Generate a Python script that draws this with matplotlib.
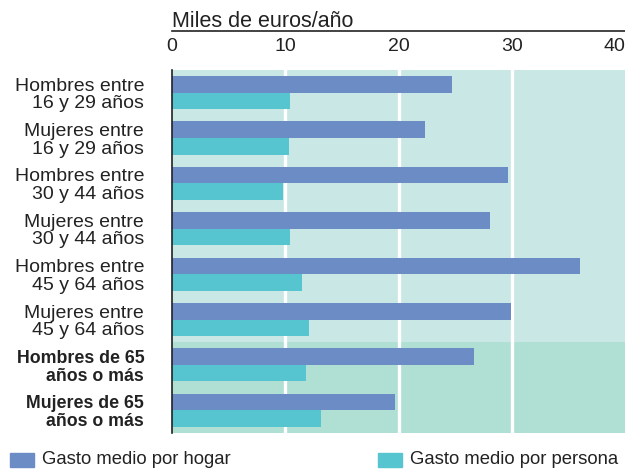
import numpy as np
import matplotlib.pyplot as plt

plt.rcParams['font.family'] = ['Liberation Sans', 'DejaVu Sans']

# data (miles de euros/año)
categorias = ["Hombres entre\n16 y 29 años", "Mujeres entre\n16 y 29 años",
              "Hombres entre\n30 y 44 años", "Mujeres entre\n30 y 44 años",
              "Hombres entre\n45 y 64 años", "Mujeres entre\n45 y 64 años",
              "Hombres de 65\naños o más", "Mujeres de 65\naños o más"]
gasto_hogar = [24.7, 22.3, 29.7, 28.1, 36.0, 29.9, 26.7, 19.7]
gasto_persona = [10.4, 10.3, 9.8, 10.4, 11.5, 12.1, 11.8, 13.2]
ticks = [0, 10, 20, 30, 40]

c_hogar = '#6c8cc6'
c_persona = '#56c5d0'
bg_light = '#c9e7e5'
bg_dark = '#b0dfd4'

fig = plt.figure(figsize=(6.25, 4.71), dpi=100)
ax = fig.add_axes([0.2752, 0.0807, 0.7248, 0.7707])

y = np.arange(len(categorias))
h = 0.365
ax.barh(y - h / 2, gasto_hogar, height=h, color=c_hogar, zorder=3)
ax.barh(y + h / 2, gasto_persona, height=h, color=c_persona, zorder=3)

ax.set_xlim(0, 40)
ax.set_ylim(len(categorias) - 0.5, -0.5)
ax.axhspan(-0.5, 5.5, color=bg_light, zorder=0, lw=0)
ax.axhspan(5.5, 7.5, color=bg_dark, zorder=0, lw=0)
for t in ticks[1:-1]:
    ax.axvline(t, color='white', lw=2.4, zorder=1)

for s in ['top', 'right', 'bottom']:
    ax.spines[s].set_visible(False)
ax.spines['left'].set_color('#222222')
ax.spines['left'].set_linewidth(1.2)
ax.spines['left'].set_zorder(4)

ax.xaxis.tick_top()
ax.set_xticks(ticks)
ax.set_xticklabels([str(t) for t in ticks], fontsize=14, color='#222222')
ax.get_xticklabels()[-1].set_ha('right')
ax.tick_params(axis='x', length=0, pad=11)

ax.set_yticks(y)
ax.set_yticklabels(categorias, fontsize=14, linespacing=1.05, color='#222222')
ax.tick_params(axis='y', length=0, pad=20)
for i, lab in enumerate(ax.get_yticklabels()):
    lab.set_ha('right')
    if i >= 6:
        lab.set_fontweight('bold')
        lab.set_fontsize(12.8)

# title with rule underneath
fig.text(0.2752, 0.943, "Miles de euros/año", fontsize=15.5, ha='left',
         va='baseline', color='#222222')
fig.add_artist(plt.Line2D([0.2752, 1.0], [0.934, 0.934], color='#222222', lw=1.2))

# legend
fig.patches.append(plt.Rectangle((0.016, 0.0085), 0.0384, 0.0297, color=c_hogar,
                                 transform=fig.transFigure))
fig.text(0.067, 0.0234, "Gasto medio por hogar", fontsize=13.3, va='center',
         color='#222222')
fig.patches.append(plt.Rectangle((0.605, 0.0085), 0.0384, 0.0297, color=c_persona,
                                 transform=fig.transFigure))
fig.text(0.656, 0.0234, "Gasto medio por persona", fontsize=13.3, va='center',
         color='#222222')

fig.savefig('out.png', dpi=100)
